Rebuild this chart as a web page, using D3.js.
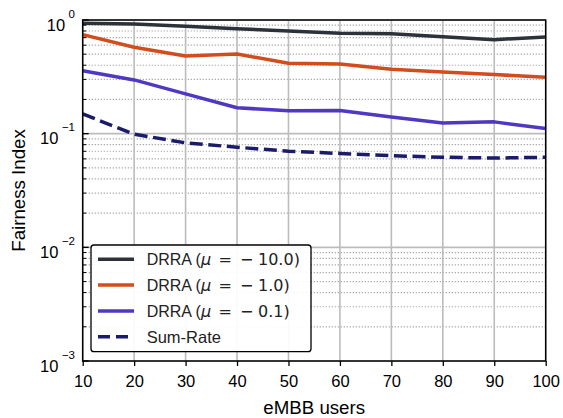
<!DOCTYPE html>
<html>
<head>
<meta charset="utf-8">
<script src="https://cdn.jsdelivr.net/npm/d3@7"></script>
<style>
  html, body { margin: 0; padding: 0; background: #fff; }
  svg { display: block; font-family: "Liberation Sans", Arial, sans-serif; }
</style>
</head>
<body>
<svg id="chart" width="563" height="418"></svg>
<script>
// ---- data ----
const users = [10, 20, 30, 40, 50, 60, 70, 80, 90, 100];
const drraMu10 = [0.935, 0.922, 0.880, 0.838, 0.800, 0.764, 0.758, 0.714, 0.671, 0.709];
const drraMu1 = [0.743, 0.575, 0.482, 0.502, 0.416, 0.410, 0.369, 0.349, 0.331, 0.314];
const drraMu01 = [0.358, 0.297, 0.224, 0.169, 0.159, 0.160, 0.140, 0.124, 0.127, 0.111];
const sumRate = [0.149, 0.099, 0.083, 0.076, 0.070, 0.067, 0.064, 0.062, 0.061, 0.062];
const xTicks = [10, 20, 30, 40, 50, 60, 70, 80, 90, 100];
const yDecades = [1, 0.1, 0.01, 0.001];
const yExponents = ["0", "−1", "−2", "−3"];
const muValues = ["10.0)", "1.0)", "0.1)"];
const seriesLabelBase = "DRRA (";

const series = [
  { values: drraMu10, color: "#2b323a", dash: null, mu: muValues[0] },
  { values: drraMu1, color: "#d14d1d", dash: null, mu: muValues[1] },
  { values: drraMu01, color: "#5038c2", dash: null, mu: muValues[2] },
  { values: sumRate, color: "#1b1b6b", dash: "13,5.6", label: "Sum-Rate" }
];

// ---- layout ----
const L = 82.7, R = 545.7, T = 20, B = 361;
const svg = d3.select("#chart");
const x = d3.scaleLinear().domain([10, 100]).range([L, R]);
const y = d3.scaleLog().domain([1e-3, 1]).range([B, T]);

const minors = [];
[1e-3, 1e-2, 1e-1].forEach(d => { for (let k = 2; k <= 9; k++) minors.push(d * k); });

// grid
const grid = svg.append("g");
grid.selectAll("line.minor").data(minors).enter().append("line")
  .attr("x1", L).attr("x2", R)
  .attr("y1", d => y(d)).attr("y2", d => y(d))
  .attr("stroke", "#a4a4a4").attr("stroke-width", 1.2)
  .attr("stroke-dasharray", "1.2,1.8");
grid.selectAll("line.vmaj").data(xTicks).enter().append("line")
  .attr("x1", d => x(d)).attr("x2", d => x(d))
  .attr("y1", T).attr("y2", B)
  .attr("stroke", "#bcbcbc").attr("stroke-width", 1.6);
grid.selectAll("line.hmaj").data(yDecades).enter().append("line")
  .attr("x1", L).attr("x2", R)
  .attr("y1", d => y(d)).attr("y2", d => y(d))
  .attr("stroke", "#bcbcbc").attr("stroke-width", 1.6);

svg.append("clipPath").attr("id", "clip").append("rect")
  .attr("x", L).attr("y", T).attr("width", R - L).attr("height", B - T);

const line = d3.line().x((d, i) => x(users[i])).y(d => y(d));
const lines = svg.append("g").attr("clip-path", "url(#clip)");
series.forEach(s => {
  lines.append("path").datum(s.values)
    .attr("d", line)
    .attr("fill", "none")
    .attr("stroke", s.color)
    .attr("stroke-width", 3.5)
    .attr("stroke-linejoin", "round")
    .attr("stroke-dasharray", s.dash);
});

// x axis
const xAxis = d3.axisBottom(x).tickValues(xTicks).tickSize(5).tickPadding(5).tickFormat(d3.format("d"));
const gx = svg.append("g").attr("transform", `translate(0,${B})`).call(xAxis);
gx.attr("font-family", null).attr("font-size", null);
gx.select(".domain").remove();
gx.selectAll(".tick line").attr("stroke", "#000").attr("stroke-width", 1.3);
gx.selectAll(".tick text").attr("font-size", 16.5).attr("fill", "#000")
  .attr("y", 0).attr("dy", 0).attr("transform", "translate(0,25.7)");

// y ticks (inward)
const yt = svg.append("g");
yt.selectAll("line.maj").data(yDecades).enter().append("line")
  .attr("x1", L).attr("x2", L + 6).attr("y1", d => y(d)).attr("y2", d => y(d))
  .attr("stroke", "#000").attr("stroke-width", 1.3);
yt.selectAll("line.min").data(minors).enter().append("line")
  .attr("x1", L).attr("x2", L + 3.5).attr("y1", d => y(d)).attr("y2", d => y(d))
  .attr("stroke", "#000").attr("stroke-width", 1);
const ylab = yt.selectAll("text.yl").data(yDecades).enter().append("text")
  .attr("x", 75).attr("y", d => y(d) + 10.5)
  .attr("text-anchor", "end").attr("font-size", 16.5);
ylab.append("tspan").text("10");
ylab.append("tspan").attr("dx", 3.5).attr("dy", -13).attr("font-size", 11.5).text((d, i) => yExponents[i]);

// frame
svg.append("rect").attr("x", L).attr("y", T).attr("width", R - L).attr("height", B - T)
  .attr("fill", "none").attr("stroke", "#000").attr("stroke-width", 1.5);

// axis labels
svg.append("text").attr("x", (L + R) / 2).attr("y", 414).attr("text-anchor", "middle")
  .attr("font-size", 18.7).text("eMBB users");
svg.append("text").attr("transform", `translate(25,${(T + B) / 2}) rotate(-90)`)
  .attr("text-anchor", "middle").attr("font-size", 18.7).text("Fairness Index");

// legend
const lg = svg.append("g");
lg.append("rect").attr("x", 91).attr("y", 245).attr("width", 220).attr("height", 106.7)
  .attr("rx", 3).attr("fill", "#fff").attr("fill-opacity", 0.92)
  .attr("stroke", "#000").attr("stroke-width", 1.3);
const rowY = [259.3, 285, 311, 336.7];
series.forEach((s, i) => {
  lg.append("line").attr("x1", 98).attr("x2", 134).attr("y1", rowY[i]).attr("y2", rowY[i])
    .attr("stroke", s.color).attr("stroke-width", 3.5)
    .attr("stroke-dasharray", s.dash ? "12,6" : null);
  const by = rowY[i] + 6;
  if (s.mu) {
    const t = lg.append("text").attr("x", 146.7).attr("y", by).attr("font-size", 16).attr("fill", "#222");
    t.append("tspan").text(seriesLabelBase);
    t.append("tspan").attr("font-family", "DejaVu Sans").attr("font-style", "italic").text("μ");
    lg.append("text").attr("x", 218.5).attr("y", by).attr("font-size", 16).attr("fill", "#222")
      .attr("font-family", "DejaVu Sans").text("=");
    lg.append("text").attr("x", 240).attr("y", by).attr("font-size", 16).attr("fill", "#222")
      .attr("font-family", "DejaVu Sans").text("−");
    lg.append("text").attr("x", 258).attr("y", by).attr("font-size", 16).attr("fill", "#222")
      .attr("font-family", "DejaVu Sans").text(s.mu);
  } else {
    lg.append("text").attr("x", 146.7).attr("y", by).attr("font-size", 16.5).attr("fill", "#222").text(s.label);
  }
});
</script>
</body>
</html>
